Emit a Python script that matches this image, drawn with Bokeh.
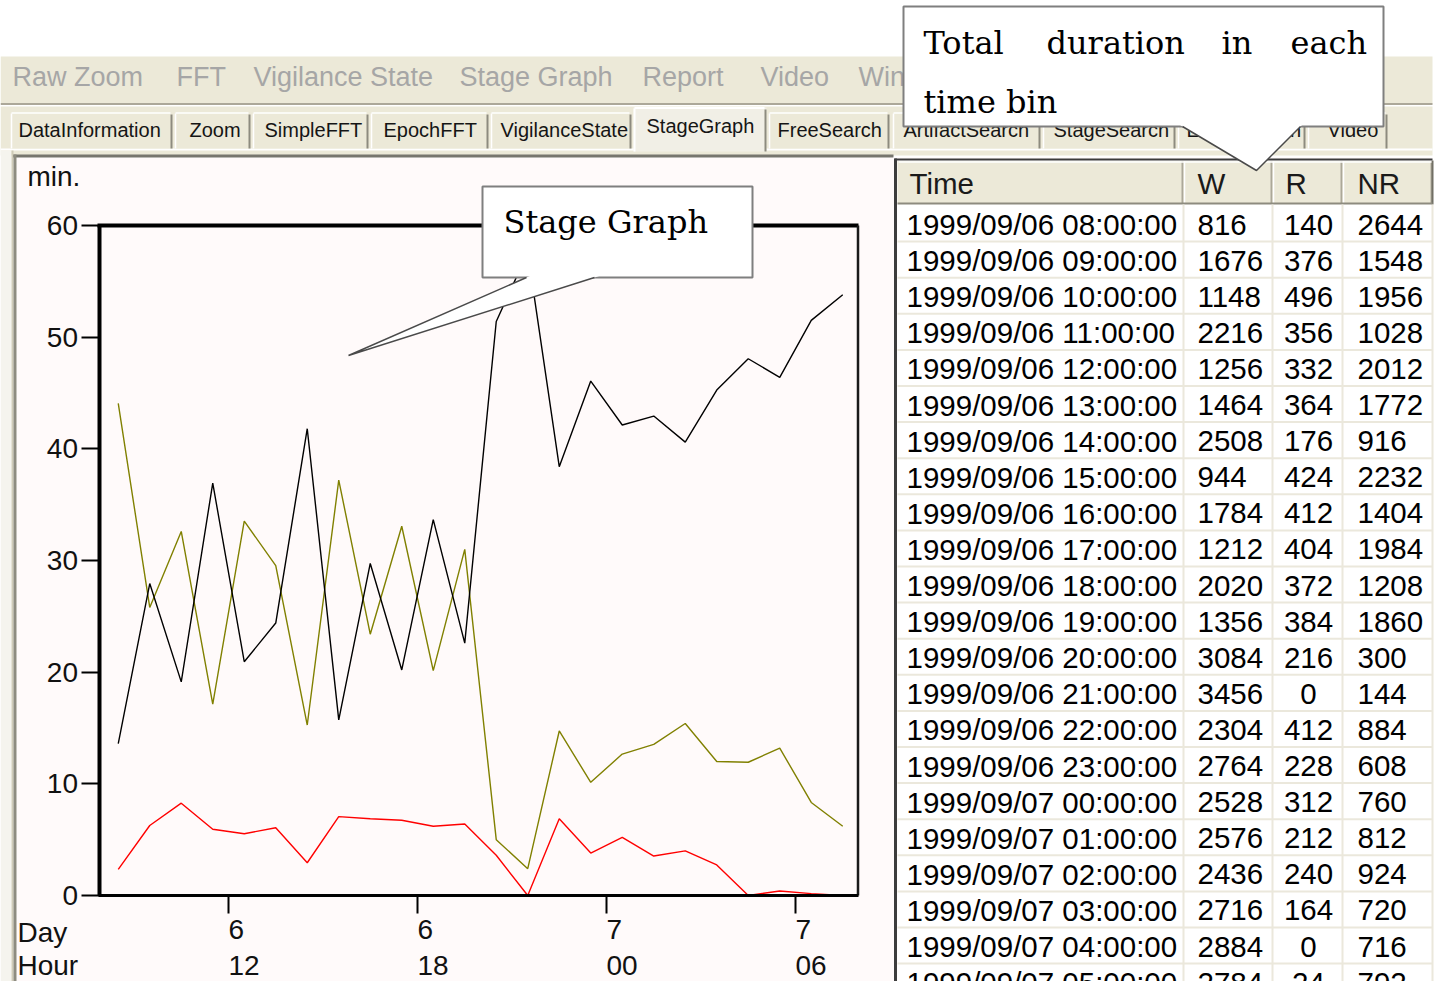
from bokeh.plotting import figure
from bokeh.models import Range1d, FixedTicker
from bokeh.embed import file_html
from bokeh.resources import INLINE
from bokeh.core.properties import value

# ---------------- data ----------------
times = [
    "1999/09/06 08:00:00", "1999/09/06 09:00:00", "1999/09/06 10:00:00", "1999/09/06 11:00:00",
    "1999/09/06 12:00:00", "1999/09/06 13:00:00", "1999/09/06 14:00:00", "1999/09/06 15:00:00",
    "1999/09/06 16:00:00", "1999/09/06 17:00:00", "1999/09/06 18:00:00", "1999/09/06 19:00:00",
    "1999/09/06 20:00:00", "1999/09/06 21:00:00", "1999/09/06 22:00:00", "1999/09/06 23:00:00",
    "1999/09/07 00:00:00", "1999/09/07 01:00:00", "1999/09/07 02:00:00", "1999/09/07 03:00:00",
    "1999/09/07 04:00:00", "1999/09/07 05:00:00", "1999/09/07 06:00:00", "1999/09/07 07:00:00",
]
bin_hours = [8, 9, 10, 11, 12, 13, 14, 15, 16, 17, 18, 19,
             20, 21, 22, 23, 24, 25, 26, 27, 28, 29, 30, 31]
W_sec = [816, 1676, 1148, 2216, 1256, 1464, 2508, 944, 1784, 1212, 2020, 1356,
         3084, 3456, 2304, 2764, 2528, 2576, 2436, 2716, 2884, 2784, 3090, 3228]
R_sec = [140, 376, 496, 356, 332, 364, 176, 424, 412, 404, 372, 384,
         216, 0, 412, 228, 312, 212, 240, 164, 0, 24, 10, 0]
NR_sec = [2644, 1548, 1956, 1028, 2012, 1772, 916, 2232, 1404, 1984, 1208, 1860,
          300, 144, 884, 608, 760, 812, 924, 720, 716, 792, 500, 372]

x_ticks = [12, 18, 24, 30]
x_day_labels = ["6", "6", "7", "7"]
x_hour_labels = ["12", "18", "00", "06"]
y_ticks = [0, 10, 20, 30, 40, 50, 60]

menu_items = ["Raw Zoom", "FFT", "Vigilance State", "Stage Graph", "Report", "Video", "Window"]
tab_names = ["DataInformation", "Zoom", "SimpleFFT", "EpochFFT", "VigilanceState", "StageGraph",
             "FreeSearch", "ArtifactSearch", "StageSearch", "EventSearch", "Video"]
table_headers = ["Time", "W", "R", "NR"]
callout_table = ["Total", "duration", "in", "each"]
callout_table_2 = "time bin"
callout_chart = "Stage Graph"

# ---------------- layout / style ----------------
PAGE_L, PAGE_R, PAGE_T, PAGE_B = 0, 1442, 0, 981
X12_PX, PX_PER_H = 228.0, 31.5
Y0_PX, PX_PER_MIN = 895.0, 670.0 / 60.0

BEIGE = "#ece9d8"
PANEL = "#fffafa"
SANS = "Liberation Sans"
SERIF = "DejaVu Serif"
NB = "\u00a0"


def hx(px):
    return 12 + (px - X12_PX) / PX_PER_H


def vy(py):
    return (Y0_PX - py) / PX_PER_MIN


p = figure(width=PAGE_R - PAGE_L, height=PAGE_B - PAGE_T,
           x_range=Range1d(hx(PAGE_L), hx(PAGE_R)),
           y_range=Range1d(vy(PAGE_B), vy(PAGE_T)),
           output_backend="svg", toolbar_location=None, min_border=0,
           background_fill_color="white", border_fill_color="white",
           outline_line_color=None)
p.title.visible = False
p.grid.visible = False
p.extra_x_ranges = {"px": Range1d(PAGE_L, PAGE_R)}
p.extra_y_ranges = {"px": Range1d(PAGE_B, PAGE_T)}

PX = dict(x_range_name="px", y_range_name="px")


def box(l, r, t, b, fill, line=None, lw=1.0):
    p.quad(left=[l], right=[r], top=[t], bottom=[b], fill_color=fill,
           line_color=line, line_width=lw, **PX)


def seg(x0, y0, x1, y1, color, lw=1.0):
    p.segment(x0=[x0], y0=[y0], x1=[x1], y1=[y1], line_color=color, line_width=lw, **PX)


def txt(xs, ys, texts, font, size, color="#000000", align="left"):
    # ys are the visual centres of the text lines
    p.text(x=xs, y=ys, text=texts, text_font=value(font), text_font_size=size,
           text_color=color, text_align=align, text_baseline="alphabetic", **PX)


def tail(bl, br, tip, inset=3.0):
    pts = []
    for (bx, by) in (bl, br):
        s = (by - inset - tip[1]) / (by - tip[1])
        pts.append((tip[0] + s * (bx - tip[0]), by - inset))
    p.patch(x=[pts[0][0], pts[1][0], tip[0]], y=[pts[0][1], pts[1][1], tip[1]],
            fill_color="white", line_color=None, **PX)
    p.line(x=[bl[0], tip[0], br[0]], y=[bl[1], tip[1], br[1]],
           line_color="#4a4a4a", line_width=1.5, **PX)


# ---- menu bar ----
box(PAGE_L, 1432, 56, 103, BEIGE)
seg(PAGE_L, 103.5, 1432, 103.5, "#aca899", 2)
seg(PAGE_L, 105.5, 1432, 105.5, "white", 1.5)
menu_x = [12, 176, 253, 459, 642, 760, 858]
txt(menu_x, [76] * len(menu_items), menu_items, SANS, "27px", "#a6a6a6")

# ---- tab strip ----
box(PAGE_L, 1432, 106, 155, BEIGE)
seg(PAGE_L, 149, 1432, 149, "white", 2)
tab_left = [10, 174, 252, 370, 490, 633, 768, 892, 1042, 1177, 1307]
tab_right = [172, 250, 368, 488, 631, 766, 889, 1040, 1175, 1305, 1387]
tab_text_x = [18, 189, 264, 383, 500, 646, 777, 903, 1053, 1186, 1327]
ACTIVE = 5
for i, (l, r) in enumerate(zip(tab_left, tab_right)):
    if i == ACTIVE:
        continue
    box(l, r, 112, 148, BEIGE)
    seg(l + 1, 113, l + 1, 148, "white", 1.5)
    seg(l + 1, 112.5, r - 2, 112.5, "white", 1.5)
    seg(r - 1, 114, r - 1, 148, "#8d8b7f", 2)
box(tab_left[ACTIVE], tab_right[ACTIVE], 107, 151, "#f1efe6")
seg(tab_left[ACTIVE] + 1, 108, tab_left[ACTIVE] + 1, 151, "white", 2)
seg(tab_left[ACTIVE] + 1, 107.5, tab_right[ACTIVE] - 2, 107.5, "white", 2)
seg(tab_right[ACTIVE] - 1, 109, tab_right[ACTIVE] - 1, 151, "#8d8b7f", 2)
tab_y = [125 if i == ACTIVE else 129 for i in range(len(tab_names))]
txt(tab_text_x, tab_y, tab_names, SANS, "20px", "#151515")

# ---- chart panel ----
box(16, 893, 157, PAGE_B, PANEL)
seg(12, 155.5, 893, 155.5, "#77766e", 3)
box(PAGE_L, 11, 150, PAGE_B, "#f5f4ee")
box(11, 13, 150, PAGE_B, "#cfcbb8")
box(13, 16, 154, PAGE_B, "#8e8c80")

# ---- table panel ----
box(893, 1432, 157, PAGE_B, PANEL)
box(897, 1432, 160, PAGE_B, "white")
seg(895, 158, 895, PAGE_B, "#3c3c3c", 3)
seg(894, 159, 1432, 159, "#3c3c3c", 2)
box(897, 1432, 160.5, 203, BEIGE)
col_bounds = [897, 1183, 1272, 1342, 1432]
for b in col_bounds[1:]:
    seg(b - 1, 161, b - 1, 203, "#aca899", 2)
    seg(b + 1, 161, b + 1, 203, "white", 1.5)
seg(1432, 160, 1432, 204, "#716f64", 2)
seg(898, 161.5, 1431, 161.5, "white", 1.5)
seg(897, 203, 1432, 203, "#8d8b7f", 2)
ROW0, ROW_H = 205.0, 36.1
n_rows = 22  # rows that fall inside the visible window
for k in range(1, n_rows + 1):
    yy = ROW0 + k * ROW_H
    seg(897, yy, 1432, yy, "#ebe8dc", 2)
for b in col_bounds[1:]:
    seg(b, 204, b, PAGE_B, "#ebe8dc", 2)
txt([909, 1197, 1285, 1357], [183] * 4, table_headers, SANS, "29.5px", "#1a1a1a")
row_mid = [224 + k * ROW_H for k in range(n_rows)]
txt([906] * n_rows, row_mid, times[:n_rows], SANS, "29.5px")
txt([1197] * n_rows, row_mid, [str(v) for v in W_sec[:n_rows]], SANS, "29.5px")
txt([1308] * n_rows, row_mid, [str(v) for v in R_sec[:n_rows]], SANS, "29.5px", align="center")
txt([1357] * n_rows, row_mid, [str(v) for v in NR_sec[:n_rows]], SANS, "29.5px")

# ---- chart box + data ----
p.segment(x0=[hx(97)], y0=[60], x1=[hx(858)], y1=[60], line_color="black", line_width=4)
p.segment(x0=[hx(857.5)], y0=[0], x1=[hx(857.5)], y1=[60], line_color="#1a1a1a", line_width=2.5)

xc = [h + 0.5 for h in bin_hours]
p.line(xc, [v / 60 for v in NR_sec], line_color="#808000", line_width=1.4)
p.line(xc, [v / 60 for v in R_sec], line_color="#ff0000", line_width=1.4)
p.line(xc, [v / 60 for v in W_sec], line_color="#000000", line_width=1.4)


def left_pad(s):
    # centred labels: leading no-break spaces push each line so it starts at its tick
    return NB * (2 * len(s)) + s


# axes
xa = p.xaxis[0]
xa.fixed_location = 0
xa.bounds = (hx(97.5), hx(858))
xa.ticker = FixedTicker(ticks=x_ticks, minor_ticks=[])
xa.major_label_overrides = {t: left_pad(d) + "\n" + left_pad(h)
                            for t, d, h in zip(x_ticks, x_day_labels, x_hour_labels)}
xa.major_label_text_font = SANS
xa.major_label_text_font_size = "28px"
xa.major_label_text_line_height = 1.17
xa.major_label_text_color = "#111111"
xa.major_label_standoff = 0
xa.major_tick_out = 18
xa.major_tick_in = 0
xa.minor_tick_out = 0
xa.minor_tick_in = 0
xa.major_tick_line_width = 2
xa.major_tick_line_color = "black"
xa.axis_line_width = 3
xa.axis_line_color = "black"

ya = p.yaxis[0]
ya.fixed_location = hx(98.5)
ya.bounds = (0, 60)
ya.ticker = FixedTicker(ticks=y_ticks, minor_ticks=[])
ya.major_label_text_font = SANS
ya.major_label_text_font_size = "28px"
ya.major_label_text_color = "#111111"
ya.major_label_standoff = 3
ya.major_tick_out = 18
ya.major_tick_in = 0
ya.minor_tick_out = 0
ya.minor_tick_in = 0
ya.major_tick_line_width = 2
ya.major_tick_line_color = "black"
ya.axis_line_width = 4
ya.axis_line_color = "black"

# chart side labels
txt([27], [176], ["min."], SANS, "28px", "#111111")
txt([17, 17], [932, 965], ["Day", "Hour"], SANS, "28px", "#111111")

# ---- "Stage Graph" callout ----
box(482, 752, 186, 277, "white", "#7f7f7f", 2)
tail((526, 277), (594, 277), (348, 355))
txt([503], [221], [callout_chart], SERIF, "32px")

# ---- "Total duration" callout ----
box(903, 1383, 6, 126, "white", "#7f7f7f", 2)
tail((1182, 126), (1300, 126), (1256, 170))
txt([923, 1046, 1221, 1290], [42] * 4, callout_table, SERIF, "32px")
txt([923], [101], [callout_table_2], SERIF, "32px")

open("out.html", "w").write(file_html(p, INLINE))
